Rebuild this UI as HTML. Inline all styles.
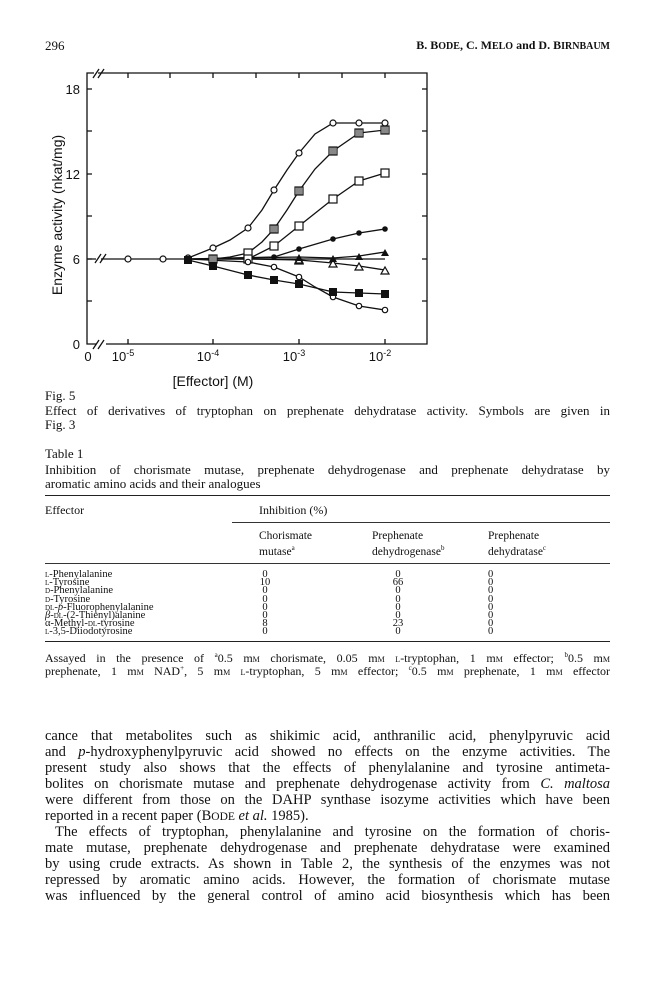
<!DOCTYPE html>
<html><head><meta charset="utf-8"><style>
body{margin:0;background:#fff;}
#p{position:relative;width:648px;height:999px;overflow:hidden;font-family:"Liberation Serif",serif;color:#111;}
.t{position:absolute;white-space:nowrap;}
.l{position:absolute;left:45px;width:565px;white-space:nowrap;text-align:justify;text-align-last:justify;}
.bl{font-size:14.5px;height:16px;line-height:16px;}
.cl{font-size:13px;line-height:14px;}
.fl{font-size:12px;line-height:13px;}
.tb{font-size:10.5px;line-height:8.2px;}
.sc{font-variant:small-caps;}
</style></head><body><div id="p">
<div class="t" style="left:45px;top:38px;font-size:13px;">296</div>
<div class="t" style="right:38px;top:38px;font-size:12px;font-weight:bold;">B. B<span style="font-size:10px">ODE</span>, C. M<span style="font-size:10px">ELO</span> and D. B<span style="font-size:10px">IRNBAUM</span></div>

<svg style="position:absolute;left:0;top:0" width="648" height="400" font-family="Liberation Sans,DejaVu Sans,sans-serif">
<g stroke="#111" stroke-width="1.3" fill="none">
<path d="M98,73 H427 V344 H106 M96,344 H87 V73 H94"/>
<path d="M93,78 l6,-9 M98,78 l6,-9 M93,349 l6,-9 M98,349 l6,-9 M95,263 l6,-9 M100,263 l6,-9"/>
<path d="M87,89 h5 M87,131 h5 M87,174 h5 M87,216 h5 M87,259 h5 M87,301 h5 M427,89 h-5 M427,131 h-5 M427,174 h-5 M427,216 h-5 M427,259 h-5 M427,301 h-5"/>
<path d="M128,73 v5 M170,73 v5 M213,73 v5 M256,73 v5 M299,73 v5 M342,73 v5 M385,73 v5 M128,344 v-5 M213,344 v-5 M299,344 v-5 M385,344 v-5"/>
<path d="M87,259 H96 M101,259 H188"/>
<polyline points="188,258 213,248 230,240 248,228 262,210 274,190 287,170 299,153 315,134 333,123 359,123 385,123"/>
<polyline points="213,259 230,257 248,253 262,242 274,229 287,210 299,191 315,169 333,151 359,133 385,130"/>
<polyline points="213,259 248,259 260,253 274,246 299,226 333,199 359,181 385,173"/>
<polyline points="188,259 274,257 299,249 333,239 359,233 385,229"/>
<polyline points="188,259 299,257 333,258 359,256 385,252"/>
<polyline points="188,259 385,259"/>
<polyline points="213,259 248,259 299,260 333,263 359,266 385,270"/>
<polyline points="188,259 248,262 274,267 299,277 315,287 333,297 359,306 385,310"/>
<polyline points="188,260 213,266 248,275 274,280 299,284 333,292 359,293 385,294"/>
</g>
<g stroke="#111" stroke-width="1.2" fill="#fff">
<circle cx="128" cy="259" r="3"/><circle cx="163" cy="259" r="3"/><circle cx="188" cy="258" r="3"/><circle cx="213" cy="248" r="3"/><circle cx="248" cy="228" r="3"/><circle cx="274" cy="190" r="3"/><circle cx="299" cy="153" r="3"/><circle cx="333" cy="123" r="3"/><circle cx="359" cy="123" r="3"/><circle cx="385" cy="123" r="3"/>
<rect x="209" y="255" width="8" height="8"/><rect x="244" y="249" width="8" height="8"/><rect x="270" y="225" width="8" height="8"/><rect x="295" y="187" width="8" height="8"/><rect x="329" y="147" width="8" height="8"/><rect x="355" y="129" width="8" height="8"/><rect x="381" y="126" width="8" height="8"/>
<rect x="244" y="255" width="8" height="8"/><rect x="270" y="242" width="8" height="8"/><rect x="295" y="222" width="8" height="8"/><rect x="329" y="195" width="8" height="8"/><rect x="355" y="177" width="8" height="8"/><rect x="381" y="169" width="8" height="8"/>
<path d="M299,264 l-4,0 4,-7 4,7z M333,267 l-4,0 4,-7 4,7z M359,270 l-4,0 4,-7 4,7z M385,274 l-4,0 4,-7 4,7z M299,263 l-4,0 4,-7 4,7z"/>
<circle cx="248" cy="262" r="2.7"/><circle cx="274" cy="267" r="2.7"/><circle cx="299" cy="277" r="2.7"/><circle cx="333" cy="297" r="2.7"/><circle cx="359" cy="306" r="2.7"/><circle cx="385" cy="310" r="2.7"/>
</g>
<g stroke="#111" stroke-width="1" fill="none"><path d="M211,255 v8 M213,255 v8 M215,255 v8 M331,147 v8 M333,147 v8 M335,147 v8 M357,129 v8 M359,129 v8 M361,129 v8 M383,126 v8 M385,126 v8 M387,126 v8 M272,225 v8 M274,225 v8 M276,225 v8 M297,187 v8 M299,187 v8 M301,187 v8"/></g>
<g fill="#111">
<circle cx="274" cy="257" r="2.8"/><circle cx="299" cy="249" r="2.8"/><circle cx="333" cy="239" r="2.8"/><circle cx="359" cy="233" r="2.8"/><circle cx="385" cy="229" r="2.8"/>
<path d="M299,261 l-4,0 4,-7 4,7z M333,262 l-4,0 4,-7 4,7z M359,260 l-4,0 4,-7 4,7z M385,256 l-4,0 4,-7 4,7z"/>
<rect x="184" y="256" width="8" height="8"/><rect x="209" y="262" width="8" height="8"/><rect x="244" y="271" width="8" height="8"/><rect x="270" y="276" width="8" height="8"/><rect x="295" y="280" width="8" height="8"/><rect x="329" y="288" width="8" height="8"/><rect x="355" y="289" width="8" height="8"/><rect x="381" y="290" width="8" height="8"/>
</g>
<g font-size="13" fill="#111">
<text x="80" y="94" text-anchor="end">18</text><text x="80" y="179" text-anchor="end">12</text><text x="80" y="264" text-anchor="end">6</text><text x="80" y="349" text-anchor="end">0</text>
<text x="88" y="361" text-anchor="middle">0</text>
<text x="123" y="361" text-anchor="middle">10<tspan font-size="9" dy="-5">-5</tspan></text>
<text x="208" y="361" text-anchor="middle">10<tspan font-size="9" dy="-5">-4</tspan></text>
<text x="294" y="361" text-anchor="middle">10<tspan font-size="9" dy="-5">-3</tspan></text>
<text x="380" y="361" text-anchor="middle">10<tspan font-size="9" dy="-5">-2</tspan></text>
<text x="213" y="386" text-anchor="middle" font-size="14">[Effector] (M)</text>
<text transform="translate(62,215) rotate(-90)" text-anchor="middle" font-size="14">Enzyme activity (nkat/mg)</text>
</g>
</svg>

<div class="t cl" style="left:45px;top:389px;">Fig. 5</div>
<div class="l cl" style="top:404px;">Effect of derivatives of tryptophan on prephenate dehydratase activity. Symbols are given in</div>
<div class="t cl" style="left:45px;top:418px;">Fig. 3</div>
<div class="t cl" style="left:45px;top:447px;">Table 1</div>
<div class="l cl" style="top:463px;">Inhibition of chorismate mutase, prephenate dehydrogenase and prephenate dehydratase by</div>
<div class="t cl" style="left:45px;top:477px;">aromatic amino acids and their analogues</div>
<div style="position:absolute;left:45px;width:565px;top:495px;border-top:1.3px solid #222"></div>
<div class="t" style="left:45px;top:503px;font-size:12px;">Effector</div>
<div class="t" style="left:259px;top:503px;font-size:12px;">Inhibition (%)</div>
<div style="position:absolute;left:232px;width:378px;top:522px;border-top:1px solid #333"></div>
<div class="t" style="left:259px;top:530px;font-size:11.5px;line-height:12px;">Chorismate<br>mutase<sup style="font-size:7px">a</sup></div>
<div class="t" style="left:372px;top:530px;font-size:11.5px;line-height:12px;">Prephenate<br>dehydrogenase<sup style="font-size:7px">b</sup></div>
<div class="t" style="left:488px;top:530px;font-size:11.5px;line-height:12px;">Prephenate<br>dehydratase<sup style="font-size:7px">c</sup></div>
<div style="position:absolute;left:45px;width:565px;top:563px;border-top:1px solid #333"></div>
<div class="t tb" style="left:45px;top:571px;"><span class="sc">l</span>-Phenylalanine<br><span class="sc">l</span>-Tyrosine<br><span class="sc">d</span>-Phenylalanine<br><span class="sc">d</span>-Tyrosine<br><span class="sc">dl</span>-<i>p</i>-Fluorophenylalanine<br><i>β</i>-<span class="sc">dl</span>-(2-Thienyl)alanine<br>α-Methyl-<span class="sc">dl</span>-tyrosine<br><span class="sc">l</span>-3,5-Diiodotyrosine</div>
<div class="t tb" style="left:258px;top:571px;text-align:center;width:14px;">0<br>10<br>0<br>0<br>0<br>0<br>8<br>0</div>
<div class="t tb" style="left:391px;top:571px;text-align:center;width:14px;">0<br>66<br>0<br>0<br>0<br>0<br>23<br>0</div>
<div class="t tb" style="left:488px;top:571px;">0<br>0<br>0<br>0<br>0<br>0<br>0<br>0</div>
<div style="position:absolute;left:45px;width:565px;top:641px;border-top:1.3px solid #222"></div>
<div class="l fl" style="top:649px;">Assayed in the presence of <sup style="font-size:7px">a</sup>0.5 m<span class="sc">m</span> chorismate, 0.05 m<span class="sc">m</span> <span class="sc">l</span>-tryptophan, 1 m<span class="sc">m</span> effector; <sup style="font-size:7px">b</sup>0.5 m<span class="sc">m</span></div>
<div class="l fl" style="top:662px;">prephenate, 1 m<span class="sc">m</span> NAD<sup style="font-size:7px">+</sup>, 5 m<span class="sc">m</span> <span class="sc">l</span>-tryptophan, 5 m<span class="sc">m</span> effector; <sup style="font-size:7px">c</sup>0.5 m<span class="sc">m</span> prephenate, 1 m<span class="sc">m</span> effector</div>

<div class="l bl" style="top:728px;">cance that metabolites such as shikimic acid, anthranilic acid, phenylpyruvic acid</div>
<div class="l bl" style="top:744px;">and <i>p</i>-hydroxyphenylpyruvic acid showed no effects on the enzyme activities. The</div>
<div class="l bl" style="top:760px;">present study also shows that the effects of phenylalanine and tyrosine antimeta-</div>
<div class="l bl" style="top:776px;">bolites on chorismate mutase and prephenate dehydrogenase activity from <i>C. maltosa</i></div>
<div class="l bl" style="top:792px;">were different from those on the DAHP synthase isozyme activities which have been</div>
<div class="t bl" style="left:45px;top:808px;">reported in a recent paper (B<span style="font-size:11.5px">ODE</span> <i>et al.</i> 1985).</div>
<div class="l bl" style="top:824px;left:55px;width:555px;">The effects of tryptophan, phenylalanine and tyrosine on the formation of choris-</div>
<div class="l bl" style="top:840px;">mate mutase, prephenate dehydrogenase and prephenate dehydratase were examined</div>
<div class="l bl" style="top:856px;">by using crude extracts. As shown in Table 2, the synthesis of the enzymes was not</div>
<div class="l bl" style="top:872px;">repressed by aromatic amino acids. However, the formation of chorismate mutase</div>
<div class="l bl" style="top:888px;">was influenced by the general control of amino acid biosynthesis which has been</div>
</div></body></html>
